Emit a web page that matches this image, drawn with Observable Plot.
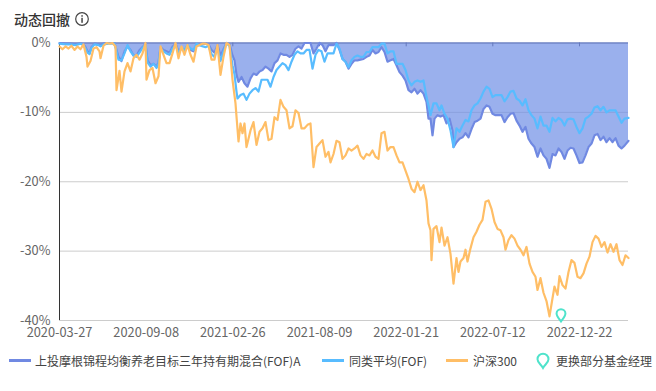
<!DOCTYPE html>
<html><head><meta charset="utf-8">
<script src="https://cdn.jsdelivr.net/npm/d3@7"></script>
<script src="https://cdn.jsdelivr.net/npm/@observablehq/plot@0.6"></script>
<style>
html,body{margin:0;padding:0;background:#fff;width:656px;height:391px;overflow:hidden;font-family:"Noto Sans CJK SC","Noto Sans",sans-serif}
#wrap{position:relative;width:656px;height:391px}
#title{position:absolute;left:14px;top:10px;font-size:14px;line-height:18px;font-weight:500;color:#333;white-space:nowrap}
#info{position:absolute;left:74px;top:11px}
#chart{position:absolute;left:0;top:30px}
.lg{position:absolute;top:352px;font-size:12px;line-height:18px;color:#444;white-space:nowrap}
.sw{position:absolute;top:359px;width:22px;height:3px}
</style></head><body>
<div id="wrap">
<div id="title">动态回撤</div>
<svg id="info" width="16" height="16"><circle cx="8" cy="8" r="6.3" fill="none" stroke="#444" stroke-width="1.2"/><rect x="7.3" y="6.8" width="1.5" height="5" fill="#444"/><rect x="7.3" y="4.2" width="1.5" height="1.5" fill="#444"/></svg>
<div id="chart"></div>
</div>
<script>
const dateLabels = ["2020-03-27","2020-09-08","2021-02-26","2021-08-09","2022-01-21","2022-07-12","2022-12-22"];
const labelSessions = [0,86.7,173.3,260,346.7,433.3,520];
const yTicks = [0,-10,-20,-30,-40];
const seriesNames = ["上投摩根锦程均衡养老目标三年持有期混合(FOF)A","同类平均(FOF)","沪深300","更换部分基金经理"];
const managerChange = [[501.5,-39]];

const fund = [[0,0],[6,-.1],[11,-.1],[16,-.2],[21,-.1],[24,-.2],[26,-.6],[28,-1.2],[30,-1.5],[32,-.6],[35,-.1],[39,-.2],[41,-.4],[44,-.1],[49,0],[55,0],[57,-1],[59,-2],[62,-2.6],[65,-1.2],[68,-.5],[71,-1],[74,-1.8],[77,-1.8],[80,-1],[83,-.6],[86,-.1],[88,-2.5],[91,-3.2],[94,-3],[97,-3.4],[99,-2.8],[101,-.6],[104,-1],[107,-1.2],[110,-1.4],[113,-.5],[116,-.1],[119,-1.2],[122,-.8],[125,-1.1],[128,-.5],[131,-1],[134,-1.2],[137,-.4],[141,-.2],[146,-.1],[149,-.2],[152,-1],[155,-1.4],[158,-.3],[161,-1.8],[164,-.9],[167,0],[170,-.2],[173,-1.8],[175,-2.5],[177,-4.6],[179,-5.6],[182,-4.9],[185,-5.8],[188,-6.3],[191,-5.1],[194,-4.4],[197,-4.6],[200,-4.1],[203,-3.9],[206,-3.4],[209,-3.7],[212,-4.1],[215,-2.9],[218,-2.5],[221,-1.5],[224,-1.7],[227,-1.7],[230,-2],[233,-1.7],[236,-.8],[239,-.5],[242,-.8],[245,0],[248,0],[251,0],[254,-1.5],[257,-.8],[260,0],[263,-.3],[266,-1.2],[269,-.3],[271,-.3],[274,-.3],[277,0],[280,-1],[283,-2.3],[286,-2.7],[289,-3.7],[292,-3],[295,-2.5],[298,-2.5],[301,-2.4],[304,-2.3],[307,-2],[310,-1.8],[313,-1],[316,-1.5],[319,-1.3],[322,-.6],[325,-1.3],[328,-2.7],[331,-2.5],[334,-2.3],[337,-3.2],[340,-4.2],[343,-4.7],[346,-5.4],[349,-6.8],[352,-7.1],[355,-6.6],[358,-7.3],[361,-6.8],[364,-7.3],[367,-8.5],[369,-10.9],[371,-10.9],[373,-13.3],[375,-10.9],[378,-10.4],[381,-10.6],[384,-10.4],[387,-11.6],[390,-10.9],[393,-12.6],[394,-15],[397,-14.3],[400,-13.8],[403,-13.6],[406,-13],[409,-13.6],[412,-12.4],[415,-11.4],[418,-11.2],[421,-10.9],[424,-9.5],[427,-9],[430,-9.2],[433,-10.2],[436,-10.4],[439,-10.4],[442,-10.4],[445,-11.4],[448,-10.7],[451,-10.2],[454,-10.1],[457,-11.2],[460,-11.9],[463,-12.8],[466,-12.1],[469,-13.8],[472,-14.5],[475,-15],[478,-16.4],[481,-15.2],[484,-16.2],[487,-16.7],[490,-18],[493,-16],[496,-16.2],[499,-15.2],[502,-15.7],[505,-16.7],[508,-15.5],[511,-15.1],[514,-15.2],[517,-16.2],[520,-17.3],[523,-17.2],[526,-16.2],[529,-15],[532,-14.5],[535,-13.3],[538,-13.1],[541,-14],[544,-13.5],[547,-14.3],[550,-13.7],[553,-14.3],[556,-13.7],[559,-14.8],[562,-15.2],[565,-14.8],[569,-14.1]];

const peer = [[0,-.1],[6,-.2],[11,-.2],[16,-.3],[21,-.1],[24,-.3],[26,-.8],[28,-1.4],[30,-1.6],[32,-.7],[35,-.2],[39,-.3],[41,-.5],[44,-.2],[49,-.1],[55,-.1],[57,-1.2],[59,-2.4],[62,-2.5],[65,-1.5],[68,-.3],[71,-1.2],[74,-1.8],[77,-2],[80,-1.4],[83,-.7],[86,-.2],[88,-2.8],[91,-3.4],[94,-3],[97,-3.6],[99,-3],[101,-.8],[104,-1.2],[107,-1.5],[110,-1.7],[113,-.8],[116,-.3],[119,-1.4],[122,-.7],[125,-1],[128,-.3],[131,-.8],[134,-1],[137,-.1],[141,-.4],[146,-.6],[149,-.4],[152,-1.6],[155,-2],[158,-.6],[161,-2.6],[164,-1.2],[167,-.1],[170,-.4],[173,-3.2],[175,-4.5],[177,-7],[178,-8],[181,-7.5],[184,-7.3],[187,-8.2],[190,-7.3],[193,-6.8],[196,-6.5],[199,-7],[202,-5.3],[205,-5.3],[208,-5.3],[211,-6.3],[214,-4.9],[217,-3.9],[220,-3.4],[223,-2.9],[226,-3.2],[229,-3.9],[232,-2.7],[235,-1.7],[238,-1.2],[241,-1.5],[244,-1.5],[247,-1],[250,-1],[253,-3.7],[256,-1.7],[259,-1],[262,-1.2],[265,-2.7],[268,-1.5],[271,-1.5],[274,-1.5],[277,-.1],[280,-.8],[283,-2.3],[286,-2.7],[289,-3.5],[292,-2.5],[295,-2],[298,-1.8],[301,-2],[304,-2],[307,-1.3],[310,-1.3],[313,-.6],[316,-.6],[319,-.6],[322,-.1],[325,-.1],[328,-1.5],[331,-1.2],[334,-1.2],[337,-3],[340,-3],[343,-3],[346,-3.9],[349,-5.4],[352,-6.1],[355,-5.6],[358,-5.4],[361,-5.6],[364,-5.4],[367,-7.8],[369,-9],[371,-10.4],[374,-8.7],[377,-8.7],[380,-9.7],[382,-9],[385,-10.2],[388,-10.9],[391,-12.6],[394,-15],[397,-12.3],[400,-12.8],[403,-11.9],[406,-11.1],[409,-11.3],[412,-9.7],[415,-9],[418,-8.7],[421,-8],[424,-7],[427,-6.3],[430,-6.6],[433,-7.8],[436,-7.5],[439,-7.5],[442,-7.5],[445,-8.4],[448,-7.8],[451,-7],[454,-6.9],[457,-8],[460,-8.3],[463,-9],[466,-8.1],[469,-9.7],[472,-10.4],[475,-10.9],[478,-12.3],[481,-10.6],[484,-11.9],[487,-11.9],[490,-12.8],[493,-10.8],[496,-11.3],[499,-10.8],[502,-11.1],[505,-11.9],[508,-11],[511,-10.9],[514,-11],[517,-12.1],[520,-13],[523,-12.3],[526,-10.9],[529,-10.6],[532,-10.2],[535,-9.3],[538,-9.1],[541,-9.7],[544,-9.2],[547,-10],[550,-9.7],[553,-9.7],[556,-9.7],[559,-10.6],[562,-11.5],[565,-10.9],[569,-10.8]];

const hs300 = [[0,-.5],[3,-.9],[6,-.5],[9,-.8],[12,-.4],[15,-1],[18,-.5],[21,-.9],[24,-.2],[27,-2],[28,-3.4],[31,-2.6],[34,-.8],[37,-.6],[40,-1.2],[41,-2.2],[44,-.4],[47,0],[50,-.1],[53,0],[56,-.5],[57,-6.8],[60,-4],[62,-7],[65,-4.1],[68,-2.9],[71,-4.1],[74,-2.2],[77,-1.7],[80,-2.4],[83,-1.5],[86,0],[87,-5.3],[90,-3.9],[93,-3.6],[96,-5.8],[99,-4.8],[101,-.5],[104,-1.7],[107,-2.9],[110,-2.9],[113,-1.5],[116,0],[119,-2.2],[122,-.5],[125,-1.7],[128,-.3],[131,-1.7],[134,-2.7],[137,-.5],[140,-.3],[143,-.1],[146,-.1],[149,-.3],[152,-2.4],[155,-2.4],[158,-.3],[161,-4.6],[164,-2],[167,0],[170,-.3],[173,-5.3],[176,-8.7],[177,-10.6],[179,-14.2],[181,-11.6],[183,-13],[185,-11.6],[187,-15],[191,-12.6],[194,-11.4],[197,-14.7],[200,-12.8],[203,-12.3],[206,-11.4],[209,-14],[212,-13.8],[215,-10.7],[218,-11.1],[221,-8.2],[224,-9.2],[227,-9.7],[230,-12.3],[233,-12],[236,-9.7],[239,-10.1],[242,-12.3],[245,-12.3],[248,-11.8],[251,-11.6],[254,-17.9],[257,-15],[260,-14.5],[263,-14],[266,-16.4],[269,-15.7],[271,-17.2],[274,-16],[277,-14.1],[280,-14.3],[283,-16.7],[286,-16.2],[289,-15.2],[292,-15.5],[295,-15.2],[298,-14.8],[301,-16.2],[304,-16.7],[307,-16],[310,-16.2],[313,-15.5],[316,-16.4],[319,-16.7],[322,-13],[325,-12.8],[328,-15.5],[331,-15],[334,-15],[337,-16.2],[340,-17.2],[343,-17.2],[346,-18.4],[349,-19.6],[352,-21],[355,-21.5],[358,-20],[361,-21.2],[364,-20.5],[367,-22.7],[369,-26],[371,-27],[372,-31.3],[374,-26.8],[377,-26.4],[380,-28.7],[382,-26.6],[385,-29.2],[388,-28],[391,-30.4],[394,-34.7],[397,-31],[399,-33],[401,-31.5],[404,-31],[406,-29.8],[408,-31.5],[411,-29.6],[414,-28],[417,-27.2],[420,-26.2],[423,-25.5],[426,-22.9],[429,-22.7],[432,-23.9],[435,-25.8],[438,-26.8],[441,-27],[444,-28],[446,-29.8],[449,-28.4],[452,-27.7],[455,-28.2],[458,-29.2],[461,-29.8],[464,-30.6],[467,-29.4],[470,-31.8],[473,-33],[476,-33.7],[478,-35.6],[481,-33.9],[484,-36],[487,-37.2],[490,-39.4],[493,-36.8],[495,-35.1],[498,-36.3],[500,-33.6],[503,-34.9],[506,-35.4],[509,-33],[512,-31.3],[515,-31.7],[518,-33.7],[521,-33.9],[524,-33.2],[527,-31.8],[530,-30.8],[533,-28.7],[536,-27.8],[539,-28.2],[542,-29.4],[545,-28.7],[548,-30.2],[551,-29],[554,-30.1],[557,-29],[560,-31.3],[563,-32],[566,-30.6],[569,-31]];

const colors = {fund:"#7089e2", peer:"#58bcff", hs:"#ffbe66", pin:"#4fe3cb"};

const pinSymbol = {draw(ctx,size){
  const r = Math.sqrt(size)/2;
  ctx.moveTo(0,r*1.8);
  ctx.bezierCurveTo(-r*.5,r*1.1,-r,r*.6,-r,0);
  ctx.arc(0,0,r,Math.PI,0);
  ctx.bezierCurveTo(r,r*.6,r*.5,r*1.1,0,r*1.8);
  ctx.closePath();
}};

const chart = Plot.plot({
  width:656, height:310,
  marginLeft:59, marginRight:28, marginTop:12.5, marginBottom:20,
  style:{fontFamily:'"Noto Sans CJK SC","Noto Sans",sans-serif',fontSize:"12px",background:"transparent",overflow:"visible"},
  x:{domain:[0,569],axis:null},
  y:{domain:[-40,0],axis:null},
  marks:[
    Plot.ruleY(yTicks,{stroke:"#ccc",strokeWidth:1}),
    Plot.axisY({ticks:yTicks,tickSize:0,tickPadding:9,tickFormat:d=>d+"%",color:"#666",fontSize:12.8,label:null}),
    Plot.axisX({ticks:labelSessions,tickSize:0,tickPadding:7,tickFormat:d=>dateLabels[labelSessions.indexOf(d)],color:"#666",fontSize:12.8,label:null,anchor:"bottom"}),
    Plot.ruleX([0],{y1:-40,y2:0,stroke:"#333",strokeWidth:1}),
    Plot.areaY(fund,{x:d=>d[0],y1:0,y2:d=>d[1],fill:"#6f8fe6",fillOpacity:.7}),
    Plot.ruleY([0],{stroke:"#6478bd",strokeWidth:1}),
    Plot.ruleX(labelSessions.slice(1),{y1:0,y2:-.55,stroke:"#6478bd",strokeWidth:1}),
    Plot.line(fund,{x:d=>d[0],y:d=>d[1],stroke:colors.fund,strokeWidth:2.2}),
    Plot.line(peer,{x:d=>d[0],y:d=>d[1],stroke:colors.peer,strokeWidth:2.2}),
    Plot.line(hs300,{x:d=>d[0],y:d=>d[1],stroke:colors.hs,strokeWidth:2.2}),
    Plot.dot(managerChange,{x:d=>d[0],y:d=>d[1],symbol:pinSymbol,r:5,fill:"#fff",fillOpacity:.9,stroke:colors.pin,strokeWidth:2})
  ]
});
document.getElementById("chart").appendChild(chart);

const wrap = document.getElementById("wrap");
const legendItems = [
  {sw:9,tx:35,c:colors.fund},
  {sw:322,tx:349,c:colors.peer},
  {sw:446,tx:473,c:colors.hs},
  {tx:556,pin:true}
];
legendItems.forEach((it,i)=>{
  if(it.pin){
    const s=document.createElementNS("http://www.w3.org/2000/svg","svg");
    s.setAttribute("width",16);s.setAttribute("height",18);
    s.style.cssText="position:absolute;left:535px;top:352px";
    s.innerHTML=`<path d="M8 16C6 12.5 2.5 10.5 2.5 7.2A5.5 5.5 0 0 1 13.5 7.2C13.5 10.5 10 12.5 8 16Z" fill="#fff" stroke="${colors.pin}" stroke-width="2"/>`;
    wrap.appendChild(s);
  } else {
    const b=document.createElement("div");b.className="sw";b.style.left=it.sw+"px";b.style.background=it.c;wrap.appendChild(b);
  }
  const t=document.createElement("div");t.className="lg";t.style.left=it.tx+"px";t.textContent=seriesNames[i];wrap.appendChild(t);
});
</script>
</body></html>
